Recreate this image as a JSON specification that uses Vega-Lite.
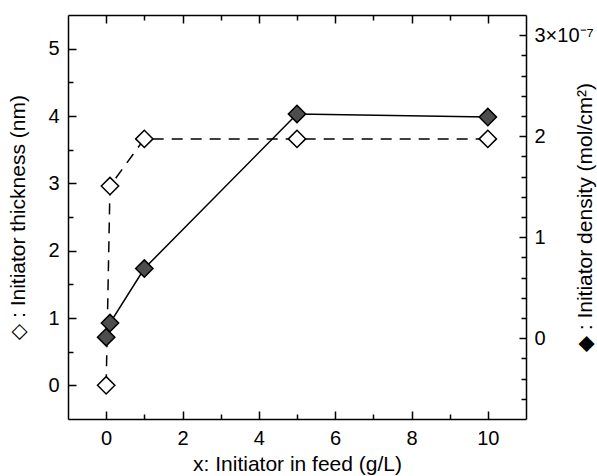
{
  "$schema": "https://vega.github.io/schema/vega-lite/v6.json",
  "autosize": {"type": "none"},
  "padding": {"left": 68, "top": 15, "right": 71, "bottom": 57},
  "width": 458,
  "height": 404,
  "background": "white",
  "config": {
    "font": "Liberation Sans",
    "view": {"stroke": null},
    "axis": {"labelColor": "black", "titleColor": "black", "labelFontSize": 20, "titleFontSize": 21, "titleFontWeight": "normal", "labelFont": "Liberation Sans", "titleFont": "Liberation Sans"}
  },
  "data": {"values": [
    {"x": 0, "thickness": 0, "density": 0.01e-7},
    {"x": 0.1, "thickness": 2.96, "density": 0.15e-7},
    {"x": 1, "thickness": 3.66, "density": 0.69e-7},
    {"x": 5, "thickness": 3.66, "density": 2.22e-7},
    {"x": 10, "thickness": 3.66, "density": 2.19e-7}
  ]},
  "layer": [
    {
      "mark": {"type": "line", "color": "black", "strokeWidth": 1.5, "strokeDash": [11, 8]},
      "encoding": {
        "x": {"field": "x", "type": "quantitative", "scale": {"domain": [-1, 11], "nice": false, "zero": false},
          "axis": {"orient": "bottom", "grid": false, "domain": true, "domainColor": "black", "domainWidth": 1.5, "ticks": true, "values": [0, 2, 4, 6, 8, 10], "tickColor": "black", "tickWidth": 1.5, "tickOpacity": 1, "tickSize": -8, "labelPadding": 17, "title": "x: Initiator in feed (g/L)", "titleX": 229, "titleY": 51, "titleBaseline": "alphabetic", "titleAnchor": "middle"}},
        "y": {"field": "thickness", "type": "quantitative", "scale": {"domain": [-0.5, 5.5], "nice": false, "zero": false},
          "axis": {"orient": "left", "grid": false, "domain": true, "domainColor": "black", "domainWidth": 1.5, "ticks": true, "values": [0, 1, 2, 3, 4, 5], "tickColor": "black", "tickWidth": 1.5, "tickOpacity": 1, "tickSize": -8, "labelPadding": 17, "title": "◇ : Initiator thickness (nm)", "titleX": -50, "titleY": 202, "titleAngle": -90, "titleBaseline": "middle", "titleAlign": "center"}}
      }
    },
    {
      "mark": {"type": "point", "shape": "diamond", "filled": true, "fill": "white", "stroke": "black", "strokeWidth": 1.5, "size": 300, "opacity": 1},
      "encoding": {
        "x": {"field": "x", "type": "quantitative", "scale": {"domain": [-1, 11], "nice": false, "zero": false},
          "axis": {"orient": "bottom", "grid": false, "domain": false, "ticks": true, "values": [1, 3, 5, 7, 9], "tickColor": "black", "tickWidth": 1.5, "tickOpacity": 1, "tickSize": -5, "labels": false, "title": null}},
        "y": {"field": "thickness", "type": "quantitative", "scale": {"domain": [-0.5, 5.5], "nice": false, "zero": false},
          "axis": {"orient": "left", "grid": false, "domain": false, "ticks": true, "values": [0.5, 1.5, 2.5, 3.5, 4.5], "tickColor": "black", "tickWidth": 1.5, "tickOpacity": 1, "tickSize": -5, "labels": false, "title": null}}
      }
    },
    {
      "mark": {"type": "line", "color": "black", "strokeWidth": 1.5},
      "encoding": {
        "x": {"field": "x", "type": "quantitative", "scale": {"domain": [-1, 11], "nice": false, "zero": false},
          "axis": {"orient": "top", "grid": false, "domain": true, "domainColor": "black", "domainWidth": 1.5, "ticks": true, "values": [0, 2, 4, 6, 8, 10], "tickColor": "black", "tickWidth": 1.5, "tickOpacity": 1, "tickSize": -8, "labels": false, "title": null}},
        "y": {"field": "density", "type": "quantitative", "scale": {"domain": [-0.8e-7, 3.2e-7], "nice": false, "zero": false},
          "axis": {"orient": "right", "grid": false, "domain": true, "domainColor": "black", "domainWidth": 1.5, "ticks": true, "values": [0, 1e-7, 2e-7, 3e-7], "tickColor": "black", "tickWidth": 1.5, "tickOpacity": 1, "tickSize": -7, "labelPadding": 15, "labelExpr": "datum.value > 2.5e-7 ? '3×10⁻⁷' : format(datum.value * 1e7, 'd')", "title": "◆ : Initiator density (mol/cm²)", "titleX": 59, "titleY": 202, "titleAngle": -90, "titleBaseline": "middle", "titleAlign": "center"}}
      }
    },
    {
      "mark": {"type": "point", "shape": "diamond", "filled": true, "fill": "#4d4d4d", "stroke": "black", "strokeWidth": 1.5, "size": 300, "opacity": 1},
      "encoding": {
        "x": {"field": "x", "type": "quantitative", "scale": {"domain": [-1, 11], "nice": false, "zero": false},
          "axis": {"orient": "top", "grid": false, "domain": false, "ticks": true, "values": [1, 3, 5, 7, 9], "tickColor": "black", "tickWidth": 1.5, "tickOpacity": 1, "tickSize": -5, "labels": false, "title": null}},
        "y": {"field": "density", "type": "quantitative", "scale": {"domain": [-0.8e-7, 3.2e-7], "nice": false, "zero": false},
          "axis": {"orient": "right", "grid": false, "domain": false, "ticks": true, "values": [-0.6e-7, -0.4e-7, -0.2e-7, 0.2e-7, 0.4e-7, 0.6e-7, 0.8e-7, 1.2e-7, 1.4e-7, 1.6e-7, 1.8e-7, 2.2e-7, 2.4e-7, 2.6e-7, 2.8e-7], "tickColor": "black", "tickWidth": 1.5, "tickOpacity": 1, "tickSize": -5, "labels": false, "title": null}}
      }
    }
  ],
  "resolve": {"scale": {"y": "independent"}, "axis": {"x": "independent", "y": "independent"}}
}
